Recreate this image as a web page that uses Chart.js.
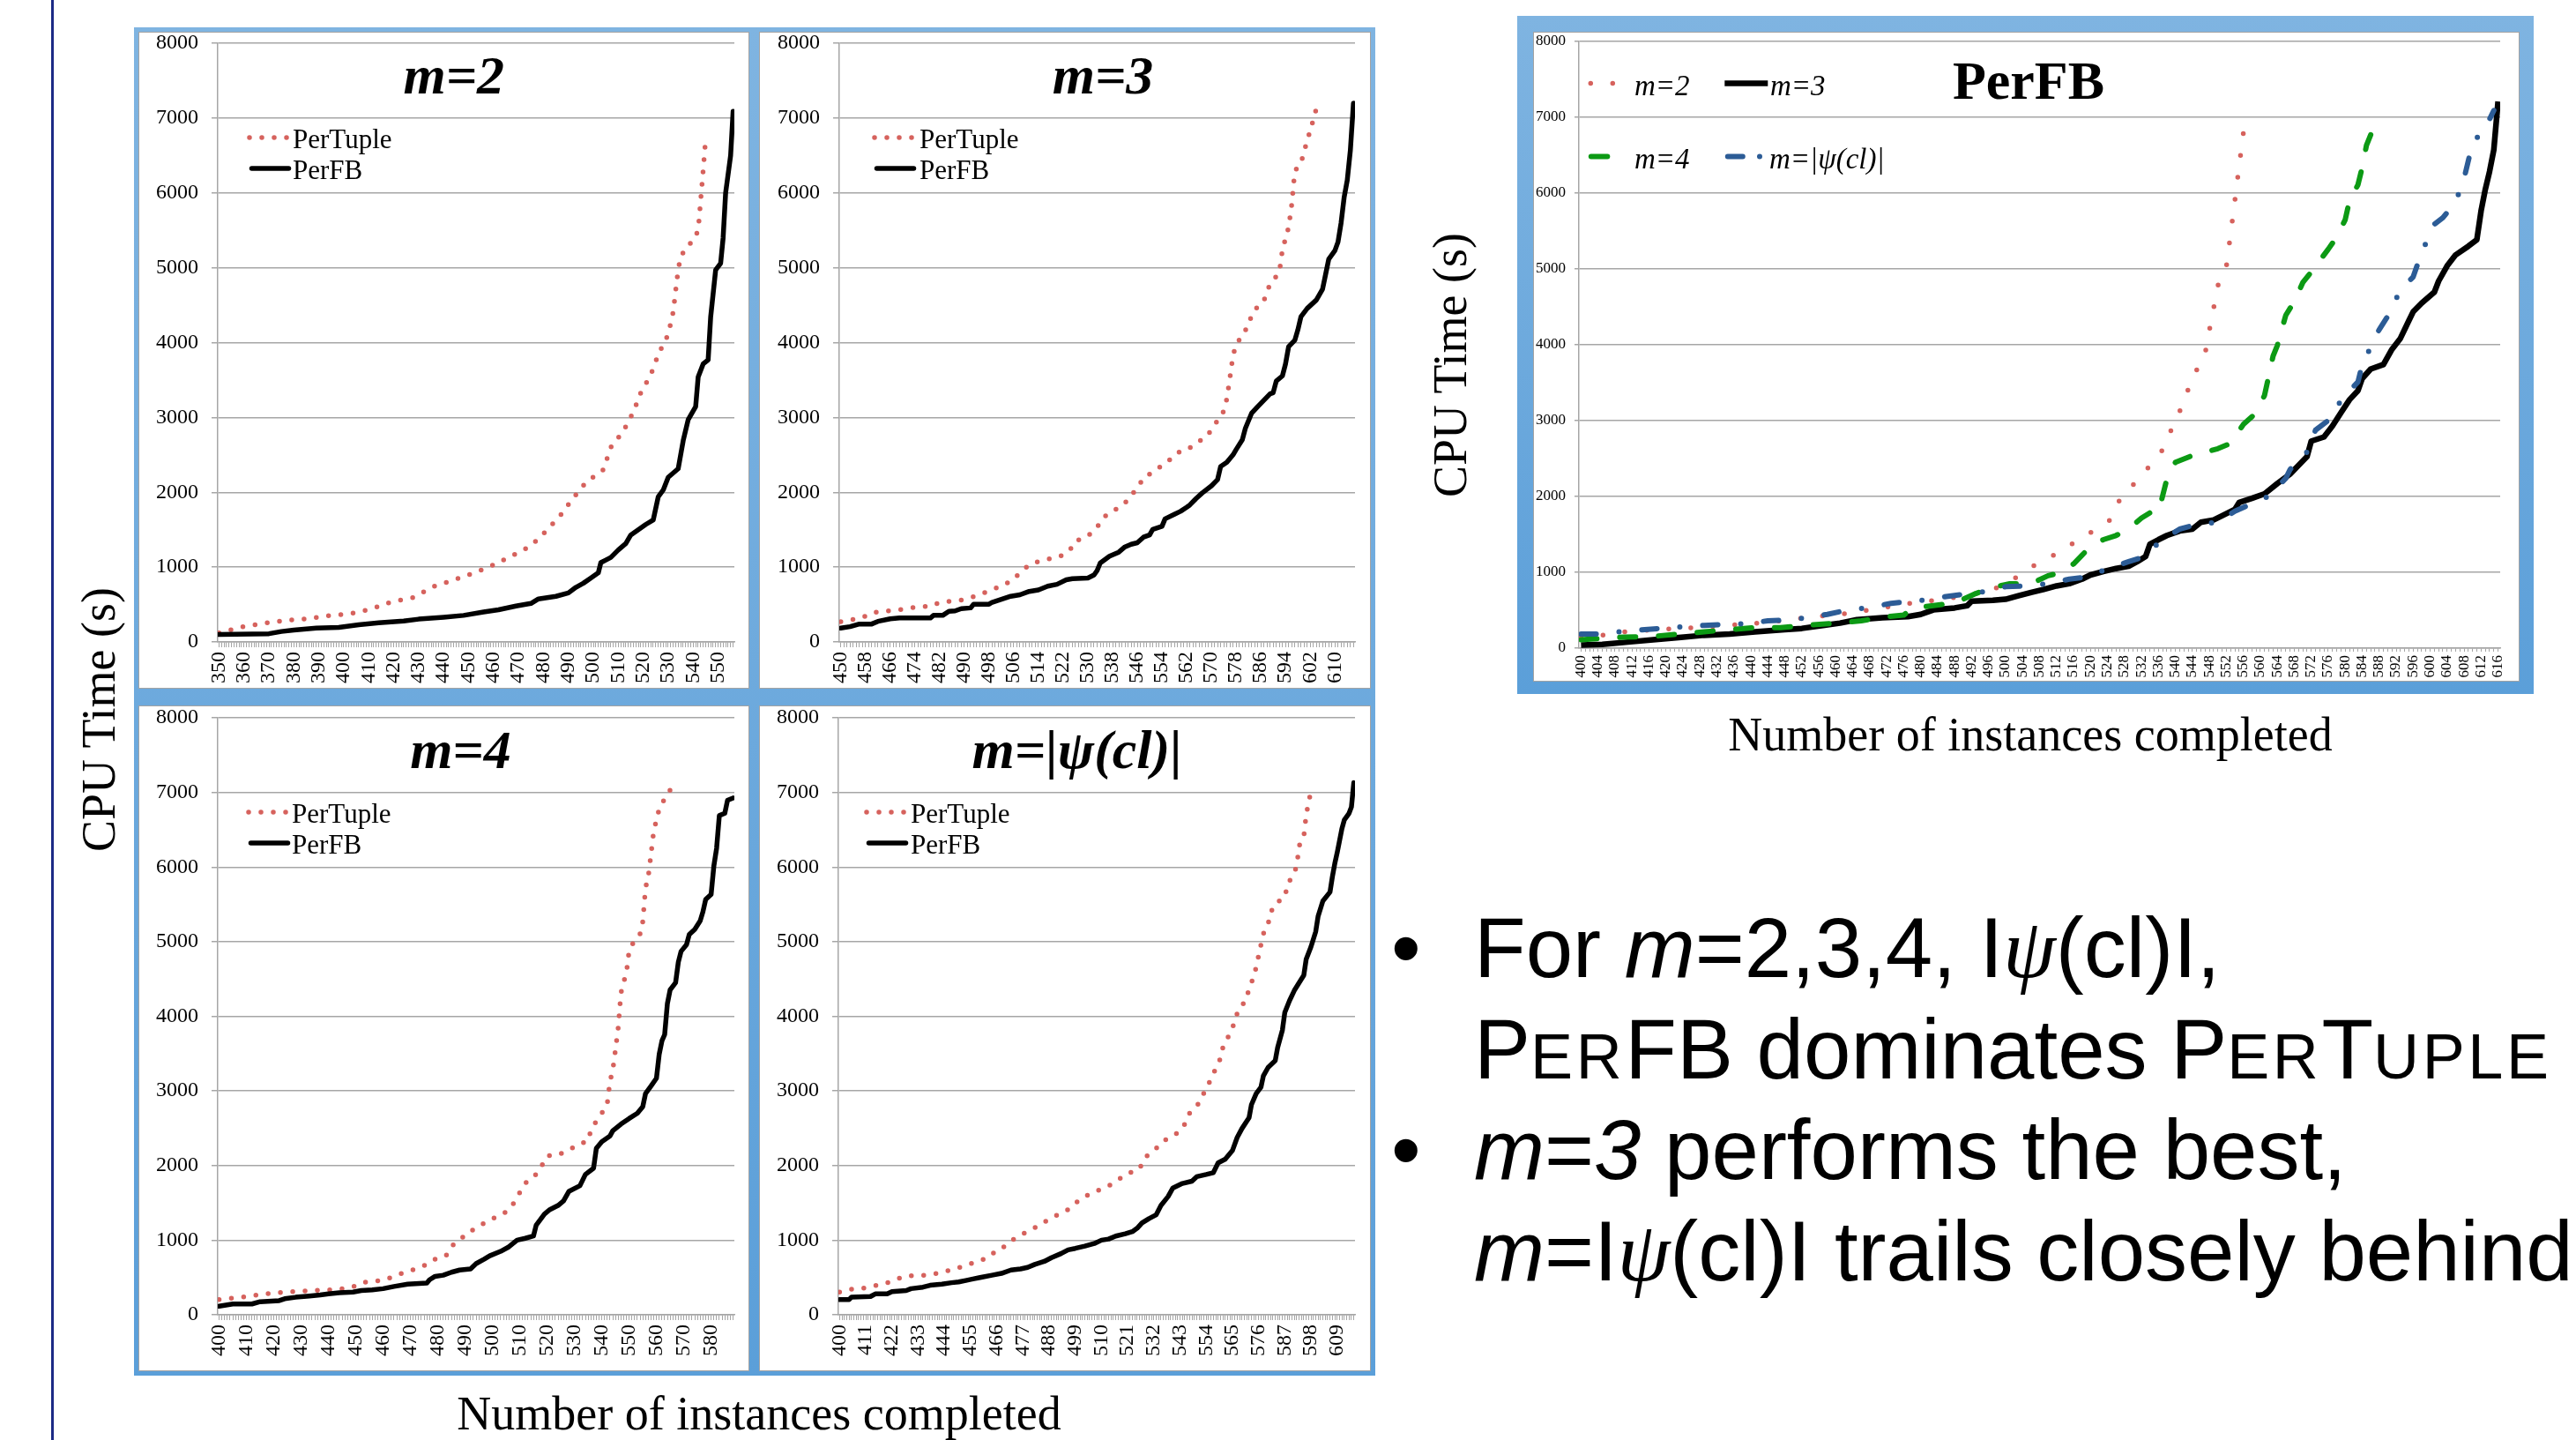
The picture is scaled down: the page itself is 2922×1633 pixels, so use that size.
<!DOCTYPE html>
<html>
<head>
<meta charset="utf-8">
<script src="https://cdn.jsdelivr.net/npm/chart.js@4.4.1/dist/chart.umd.min.js"></script>
<style>
  html, body { margin: 0; padding: 0; background: #fff; }
  body { width: 2922px; height: 1633px; position: relative; overflow: hidden; }
  .abs { position: absolute; }
  .navline { left: 58px; top: 0; width: 3px; height: 1633px; background: #1c2a86; }
  .frame { background: linear-gradient(180deg, #7fb4e1, #5b9fd9); }
  .panel { background: #fff; border: 1px solid #a3a3a3; box-sizing: border-box; }
  .axt { font-family: 'Liberation Serif', 'Times New Roman', serif; font-size: 54px; line-height: 1; white-space: nowrap; color: #000; }
  .line { font-family: 'Liberation Sans', Arial, sans-serif; font-size: 96px; line-height: 114.5px; white-space: nowrap; color: #000; }
  .sc { font-size: 0.75em; letter-spacing: 0.05em; }
  .psi { font-family: 'Liberation Serif', 'Times New Roman', serif; font-style: italic; }
</style>
</head>
<body>
<div class="abs navline"></div>

<!-- four-panel frame -->
<div class="abs frame" style="left:152px; top:31px; width:1408px; height:1529px;"></div>
<div class="abs panel" style="left:157px; top:36px; width:693px; height:745px;"></div>
<div class="abs panel" style="left:861px; top:36px; width:694px; height:745px;"></div>
<div class="abs panel" style="left:157px; top:800px; width:693px; height:755px;"></div>
<div class="abs panel" style="left:861px; top:800px; width:694px; height:755px;"></div>
<canvas id="cM2" class="abs" width="693" height="745" style="left:157px; top:36px;"></canvas>
<canvas id="cM3" class="abs" width="694" height="745" style="left:861px; top:36px;"></canvas>
<canvas id="cM4" class="abs" width="693" height="755" style="left:157px; top:800px;"></canvas>
<canvas id="cPsi" class="abs" width="694" height="755" style="left:861px; top:800px;"></canvas>

<!-- combined PerFB chart -->
<div class="abs frame" style="left:1721px; top:18px; width:1153px; height:769px;"></div>
<div class="abs panel" style="left:1739px; top:36px; width:1119px; height:737px;"></div>
<canvas id="cAll" class="abs" width="1119" height="737" style="left:1739px; top:36px;"></canvas>

<!-- axis titles -->
<div class="abs axt" style="left:112px; top:816px; transform: translate(-50%,-50%) rotate(-90deg);">CPU Time (s)</div>
<div class="abs axt" style="left:861px; top:1603px; transform: translate(-50%,-50%);">Number of instances completed</div>
<div class="abs axt" style="left:1645px; top:414px; transform: translate(-50%,-50%) rotate(-90deg);">CPU Time (s)</div>
<div class="abs axt" style="left:2303px; top:833px; transform: translate(-50%,-50%);">Number of instances completed</div>

<!-- bullets -->
<div class="abs line" style="left:1578px; top:1018px;">•</div>
<div class="abs line" style="left:1672px; top:1018px;">For <i>m</i>=2,3,4, I<span class="psi">ψ</span>(cl)I,</div>
<div class="abs line" style="left:1672px; top:1132.5px;">P<span class="sc">ER</span>FB dominates P<span class="sc">ER</span>T<span class="sc">UPLE</span></div>
<div class="abs line" style="left:1578px; top:1247px;">•</div>
<div class="abs line" style="left:1672px; top:1247px;"><i>m</i>=<i>3</i> performs the best,</div>
<div class="abs line" style="left:1672px; top:1361.5px;"><i>m</i>=I<span class="psi">ψ</span>(cl)I trails closely behind</div>

<script>
const SERIF = "'Liberation Serif', 'Times New Roman', serif";
const RED = '#d6625d';
const GRID = '#a6a6a6';

// ---- m=2 panel ----
const m2Labels = [350, 360, 370, 380, 390, 400, 410, 420, 430, 440, 450, 460, 470, 480, 490, 500, 510, 520, 530, 540, 550];
const m2PerTuple = [[350,120],[359,200],[368,250],[377,290],[385,310],[394,350],[403,380],[411,440],[419,535],[428,595],[436,740],[443,815],[452,920],[459,1015],[467,1145],[475,1285],[481,1480],[487,1700],[492,1925],[497,2130],[504,2300],[507,2600],[512,2815],[516,3070],[519,3330],[523,3570],[526,3840],[530,4110],[532,4410],[533,4700],[534,4980],[535,5140],[537,5270],[540,5360],[542,5500],[543,5900],[544,6300],[545,6720]];
const m2PerFB = [[350,100],[370,110],[375,140],[380,160],[389,185],[398,195],[406,230],[414,255],[424,280],[430,305],[440,330],[448,355],[456,400],[462,430],[469,480],[475,515],[478,575],[485,610],[490,655],[493,730],[496,785],[499,855],[502,925],[503,1060],[505,1095],[507,1130],[510,1230],[513,1315],[515,1430],[518,1500],[521,1570],[524,1630],[526,1940],[528,2030],[530,2200],[534,2315],[536,2690],[538,2970],[541,3145],[542,3540],[544,3715],[546,3770],[547,4340],[549,4970],[551,5060],[552,5400],[553,6000],[555,6500],[556,7090]];

// ---- m=3 panel ----
const m3Labels = [450, 458, 466, 474, 482, 490, 498, 506, 514, 522, 530, 538, 546, 554, 562, 570, 578, 586, 594, 602, 610];
const m3PerTuple = [[450,270],[457,325],[460,390],[464,410],[468,425],[475,470],[479,475],[482,530],[489,560],[493,605],[496,650],[500,715],[503,765],[506,840],[508,925],[511,1030],[514,1075],[521,1145],[524,1215],[526,1350],[529,1390],[532,1480],[534,1590],[536,1700],[539,1770],[542,1855],[544,1960],[546,2055],[548,2190],[551,2270],[556,2415],[559,2530],[562,2560],[565,2655],[568,2730],[570,2830],[572,2960],[574,3085],[575,3250],[576,3530],[577,3830],[578,3970],[580,4100],[582,4230],[583,4365],[585,4485],[587,4555],[588,4700],[590,4830],[592,4940],[593,5240],[594,5390],[595,5540],[596,5840],[597,6290],[599,6400],[600,6545],[601,6700],[602,6830],[603,6980],[604,7130]];
const m3PerFB = [[450,185],[453,205],[456,240],[460,240],[462,275],[466,310],[469,320],[479,320],[480,355],[483,355],[485,410],[487,415],[489,445],[492,455],[493,505],[498,505],[499,530],[502,570],[505,610],[508,630],[511,675],[514,695],[517,745],[520,770],[523,830],[525,845],[530,855],[532,895],[533,955],[534,1055],[537,1145],[540,1200],[542,1270],[544,1305],[546,1325],[548,1400],[550,1430],[551,1505],[554,1545],[555,1645],[558,1705],[560,1745],[562,1800],[563,1830],[565,1915],[567,1990],[570,2085],[572,2170],[573,2345],[575,2400],[577,2500],[578,2570],[580,2700],[581,2855],[583,3055],[585,3145],[587,3230],[589,3315],[590,3330],[591,3485],[593,3555],[594,3715],[595,3945],[597,4030],[598,4170],[599,4345],[601,4455],[604,4570],[606,4715],[607,4915],[608,5115],[610,5230],[611,5345],[612,5600],[613,5945],[614,6170],[615,6570],[616,7200]];

// ---- m=4 panel ----
const m4Labels = [400, 410, 420, 430, 440, 450, 460, 470, 480, 490, 500, 510, 520, 530, 540, 550, 560, 570, 580];
const m4PerTuple = [[400,205],[408,235],[416,275],[424,305],[432,320],[441,335],[445,350],[449,375],[452,430],[456,450],[460,460],[464,515],[468,570],[472,615],[476,675],[479,745],[483,790],[485,920],[488,1000],[491,1110],[494,1155],[497,1230],[501,1305],[504,1350],[507,1450],[509,1575],[511,1700],[513,1810],[516,1880],[518,1995],[520,2130],[524,2140],[528,2210],[532,2290],[535,2330],[536,2475],[538,2595],[540,2700],[542,2830],[543,3130],[544,3275],[545,3550],[546,3845],[547,4310],[548,4460],[549,4580],[550,4880],[552,5020],[554,5105],[555,5270],[556,5720],[557,5870],[558,6170],[559,6485],[560,6630],[561,6780],[563,6915],[565,7030]];
const m4PerFB = [[400,115],[405,145],[412,145],[415,175],[422,190],[424,215],[428,235],[433,250],[437,265],[440,280],[444,295],[449,305],[452,325],[456,335],[460,350],[464,380],[469,410],[476,425],[477,470],[479,515],[482,530],[485,570],[488,600],[492,615],[494,685],[497,745],[499,790],[503,850],[506,910],[509,1000],[512,1025],[515,1055],[516,1200],[519,1350],[521,1410],[524,1465],[526,1525],[528,1655],[532,1730],[534,1880],[537,1965],[538,2230],[540,2320],[543,2395],[544,2465],[547,2555],[550,2630],[553,2700],[555,2790],[556,2965],[558,3065],[560,3170],[561,3490],[562,3670],[563,3755],[564,4170],[565,4355],[567,4450],[568,4725],[569,4870],[571,4960],[572,5095],[574,5165],[576,5280],[577,5400],[578,5565],[580,5635],[581,6015],[582,6250],[583,6690],[585,6720],[586,6895],[588,6925]];

// ---- m=|psi(cl)| panel ----
const psiLabels = [400, 411, 422, 433, 444, 455, 466, 477, 488, 499, 510, 521, 532, 543, 554, 565, 576, 587, 598, 609];
const psiPerTuple = [[400,305],[404,340],[409,350],[413,380],[418,410],[422,450],[427,515],[431,525],[436,530],[441,555],[445,585],[450,630],[454,675],[458,715],[463,775],[466,870],[470,925],[473,1010],[477,1085],[481,1145],[485,1230],[489,1290],[492,1350],[496,1410],[499,1495],[503,1585],[507,1645],[511,1700],[515,1760],[518,1830],[522,1905],[526,1955],[528,2100],[532,2200],[535,2290],[538,2375],[542,2435],[545,2555],[547,2700],[550,2790],[552,2905],[554,3035],[556,3155],[558,3300],[560,3435],[561,3580],[563,3710],[565,3830],[566,3960],[568,4110],[571,4225],[572,4390],[574,4520],[575,4665],[576,4810],[577,4960],[578,5105],[580,5235],[581,5385],[583,5515],[587,5590],[588,5740],[590,5880],[592,6000],[593,6280],[595,6410],[596,6700],[597,6865],[598,7015]];
const psiPerFB = [[400,205],[404,205],[405,235],[413,245],[415,280],[420,280],[422,310],[428,325],[430,350],[435,370],[438,395],[443,410],[447,430],[450,440],[453,460],[456,480],[459,500],[464,530],[468,555],[472,600],[476,615],[479,635],[482,675],[486,715],[489,765],[493,820],[496,870],[499,890],[503,920],[507,955],[510,1000],[513,1015],[516,1055],[520,1085],[523,1115],[525,1160],[527,1230],[530,1290],[533,1340],[535,1465],[538,1585],[540,1700],[544,1760],[548,1790],[550,1850],[554,1880],[557,1905],[559,2035],[562,2085],[565,2200],[567,2375],[569,2495],[572,2640],[573,2815],[575,2965],[577,3050],[578,3200],[580,3315],[583,3405],[584,3580],[586,3815],[587,4050],[589,4210],[591,4345],[594,4500],[595,4550],[596,4765],[598,4930],[600,5135],[601,5340],[603,5545],[606,5665],[607,5870],[608,6045],[609,6190],[611,6515],[612,6630],[614,6720],[615,6805],[616,7130]];

// ---- combined PerFB chart ----
const allLabels = [400, 404, 408, 412, 416, 420, 424, 428, 432, 436, 440, 444, 448, 452, 456, 460, 464, 468, 472, 476, 480, 484, 488, 492, 496, 500, 504, 508, 512, 516, 520, 524, 528, 532, 536, 540, 544, 548, 552, 556, 560, 564, 568, 572, 576, 580, 584, 588, 592, 596, 600, 604, 608, 612, 616];
const fbM2 = [[400,150],[405,170],[410,215],[421,255],[427,270],[437,310],[442,330],[453,400],[463,460],[468,505],[479,605],[484,635],[489,675],[495,745],[500,830],[504,995],[508,1135],[513,1270],[517,1425],[521,1555],[525,1705],[527,1975],[531,2210],[533,2340],[537,2615],[539,2875],[541,3120],[543,3410],[545,3665],[547,3885],[548,4190],[549,4480],[550,4780],[552,5030],[553,5460],[554,5900],[555,6350],[556,6790]];
const fbM3 = [[400,40],[405,50],[411,80],[417,110],[423,140],[429,170],[435,185],[441,215],[448,245],[452,260],[457,300],[461,330],[465,375],[471,400],[477,415],[480,445],[483,505],[488,530],[491,560],[492,620],[497,630],[500,645],[503,690],[506,735],[509,775],[512,820],[515,850],[518,910],[520,965],[523,1010],[526,1050],[529,1080],[531,1140],[533,1210],[534,1370],[536,1430],[538,1485],[541,1545],[544,1570],[546,1660],[549,1690],[551,1745],[554,1830],[555,1920],[558,1975],[561,2035],[564,2170],[567,2295],[569,2410],[571,2525],[572,2730],[575,2785],[577,2930],[579,3105],[581,3275],[583,3395],[584,3555],[586,3680],[589,3740],[591,3940],[593,4085],[595,4320],[596,4435],[598,4550],[601,4695],[602,4840],[604,5040],[606,5185],[609,5300],[611,5385],[612,5765],[613,6050],[614,6285],[615,6570],[616,7210]];
const fbM4 = [[400,110],[404,125],[410,145],[417,155],[423,185],[429,215],[435,245],[441,270],[447,270],[453,300],[460,330],[466,360],[472,415],[476,435],[478,530],[483,560],[487,590],[490,645],[493,720],[497,800],[501,850],[506,850],[510,955],[513,995],[516,1110],[518,1225],[520,1340],[523,1430],[526,1485],[529,1570],[532,1715],[534,1785],[536,1790],[538,2230],[540,2450],[544,2540],[550,2630],[553,2700],[556,2950],[559,3100],[561,3335],[563,3850],[564,3990],[566,4390],[568,4570],[570,4820],[572,4960],[576,5260],[578,5420],[580,5650],[581,5900],[583,6110],[584,6340],[585,6630],[586,6770]];
const fbPsi = [[400,185],[404,185],[409,215],[415,245],[421,270],[429,300],[433,310],[438,320],[444,360],[449,370],[453,400],[458,445],[463,505],[467,530],[473,590],[477,615],[482,640],[486,680],[495,745],[500,810],[505,820],[510,850],[515,910],[519,935],[523,1025],[529,1140],[532,1195],[537,1430],[541,1570],[545,1630],[550,1660],[554,1805],[557,1880],[562,2005],[566,2240],[567,2355],[571,2585],[573,2875],[577,3045],[579,3275],[583,3510],[584,3740],[586,3970],[588,4200],[590,4375],[593,4725],[596,4895],[598,5215],[601,5590],[603,5675],[606,5880],[608,6195],[610,6660],[613,6860],[615,7090]];

function range(a, b) {
    const out = [];
    for (let v = a; v <= b; v++) out.push(v);
    return out;
}

// Title + legend drawn inside the plot area, like the Excel originals
function makeDeco(d) {
    return {
        id: 'deco',
        afterDatasetsDraw(chart) {
            const { ctx, chartArea: a } = chart;
            ctx.save();
            ctx.fillStyle = '#000';
            ctx.font = d.titleFont;
            ctx.textAlign = 'center';
            ctx.textBaseline = 'alphabetic';
            ctx.fillText(d.title, a.left + d.titleX * a.width, a.top + d.titleY);
            ctx.textAlign = 'left';
            ctx.font = d.font;
            d.items.forEach(it => {
                const ds = chart.data.datasets[it.ds];
                const y = a.top + it.y;
                ctx.strokeStyle = ds.borderColor;
                ctx.lineWidth = ds.borderWidth;
                ctx.lineCap = it.cap || ds.borderCapStyle || 'butt';
                ctx.setLineDash(it.dash || ds.borderDash || []);
                ctx.beginPath();
                ctx.moveTo(a.left + it.x0, y);
                ctx.lineTo(a.left + it.x1, y);
                ctx.stroke();
                ctx.setLineDash([]);
                ctx.fillText(ds.label, a.left + it.tx, y + d.textDy);
            });
            ctx.restore();
        }
    };
}

function axes(o) {
    const cats = range(o.first, o.last);
    const labelSet = new Set(o.labels);
    return {
        x: {
            type: 'linear', min: o.first - 0.5, max: o.last + 0.5,
            afterBuildTicks: s => { s.ticks = cats.map(v => ({ value: v })); },
            afterFit: s => { s.height = o.xh; s.paddingLeft = 0; s.paddingRight = 0; },
            grid: { drawOnChartArea: false, color: GRID, lineWidth: 1, tickLength: o.xTick },
            border: { display: true, color: GRID, width: 1.5 },
            ticks: {
                autoSkip: false, minRotation: 90, maxRotation: 90, padding: o.xPad, color: '#000',
                font: { family: SERIF, size: o.fs, lineHeight: 1 },
                callback: v => labelSet.has(v) ? String(v) : ''
            }
        },
        y: {
            min: 0, max: 8000,
            afterFit: s => { s.width = o.yw; s.paddingTop = 0; s.paddingBottom = 0; },
            grid: { color: GRID, lineWidth: 1.5, tickLength: o.yTick },
            border: { display: true, color: GRID, width: 1.5 },
            ticks: { stepSize: 1000, padding: o.yPad, color: '#000', font: { family: SERIF, size: o.fs, lineHeight: 1 },
                     callback: v => String(v) }
        }
    };
}

function createPanel(canvasId, o) {
    const ctx = document.getElementById(canvasId);
    return new Chart(ctx, {
        type: 'line',
        data: {
            datasets: [
                { label: 'PerTuple', data: o.perTuple, borderColor: RED, borderWidth: 5.5, borderDash: [0, 14],
                  borderCapStyle: 'round', borderJoinStyle: 'round', pointRadius: 0, order: 1 },
                { label: 'PerFB', data: o.perFB, borderColor: '#000', borderWidth: 5.5,
                  borderCapStyle: 'round', borderJoinStyle: 'round', pointRadius: 0, order: 0 }
            ]
        },
        options: {
            responsive: false, animation: false, events: [],
            layout: { padding: { left: 0, top: o.top, right: o.right, bottom: 0 } },
            plugins: { legend: { display: false }, tooltip: { enabled: false } },
            scales: axes({ first: o.first, last: o.last, labels: o.labels, xh: o.xh, yw: o.yw,
                           fs: 24, xTick: 6, xPad: 5, yTick: 7, yPad: 15 })
        },
        plugins: [makeDeco({
            title: o.title, titleFont: 'italic bold 62px ' + SERIF, titleX: o.titleX, titleY: 57,
            font: '31px ' + SERIF, textDy: 11.5,
            items: [
                { ds: 0, y: 107, x0: o.lx, x1: o.lx + 44, tx: o.tx },
                { ds: 1, y: 142, x0: o.lx + 2.5, x1: o.lx + 44.5, tx: o.tx }
            ]
        })]
    });
}

createPanel('cM2', { title: 'm=2', titleX: 0.457, first: 350, last: 556, labels: m2Labels,
    perTuple: m2PerTuple, perFB: m2PerFB, top: 13, right: 17, xh: 53, yw: 90, lx: 36, tx: 85 });
createPanel('cM3', { title: 'm=3', titleX: 0.511, first: 450, last: 616, labels: m3Labels,
    perTuple: m3PerTuple, perFB: m3PerFB, top: 13, right: 18, xh: 53, yw: 91, lx: 40, tx: 91 });
createPanel('cM4', { title: 'm=4', titleX: 0.47, first: 400, last: 588, labels: m4Labels,
    perTuple: m4PerTuple, perFB: m4PerFB, top: 14, right: 17, xh: 64, yw: 90, lx: 35, tx: 84 });
createPanel('cPsi', { title: 'm=|ψ(cl)|', titleX: 0.462, first: 400, last: 616, labels: psiLabels,
    perTuple: psiPerTuple, perFB: psiPerFB, top: 14, right: 18, xh: 64, yw: 90, lx: 32, tx: 82 });

// Combined PerFB chart
new Chart(document.getElementById('cAll'), {
    type: 'line',
    data: {
        datasets: [
            { label: 'm=2', data: fbM2, borderColor: RED, borderWidth: 5.5, borderDash: [0, 25],
              borderCapStyle: 'round', borderJoinStyle: 'round', pointRadius: 0, order: 3 },
            { label: 'm=3', data: fbM3, borderColor: '#000', borderWidth: 6.5,
              borderCapStyle: 'butt', borderJoinStyle: 'round', pointRadius: 0, order: 2 },
            { label: 'm=4', data: fbM4, borderColor: '#0c9a14', borderWidth: 6, borderDash: [18, 26],
              borderCapStyle: 'round', borderJoinStyle: 'round', pointRadius: 0, order: 1 },
            { label: 'm=|ψ(cl)|', data: fbPsi, borderColor: '#2c5c96', borderWidth: 6, borderDash: [17.2, 26, 0, 26],
              borderCapStyle: 'round', borderJoinStyle: 'round', pointRadius: 0, order: 0 }
        ]
    },
    options: {
        responsive: false, animation: false, events: [],
        layout: { padding: { left: 0, top: 11, right: 22, bottom: 0 } },
        plugins: { legend: { display: false }, tooltip: { enabled: false } },
        scales: axes({ first: 400, last: 616, labels: allLabels, xh: 38, yw: 52,
                       fs: 17, xTick: 4, xPad: 4, yTick: 5, yPad: 10 })
    },
    plugins: [makeDeco({
        title: 'PerFB', titleFont: 'bold 62px ' + SERIF, titleX: 0.488, titleY: 65,
        font: 'italic 33px ' + SERIF, textDy: 13,
        items: [
            { ds: 0, y: 47.6, x0: 13.3, x1: 40, tx: 63 },
            { ds: 1, y: 47.6, x0: 165.3, x1: 214.3, tx: 217 },
            { ds: 2, y: 130.6, x0: 13.8, x1: 32.3, tx: 63, dash: [] },
            { ds: 3, y: 130.6, x0: 168.8, x1: 206, tx: 216, dash: [17, 19.2, 0, 100] }
        ]
    })]
});
</script>
</body>
</html>
